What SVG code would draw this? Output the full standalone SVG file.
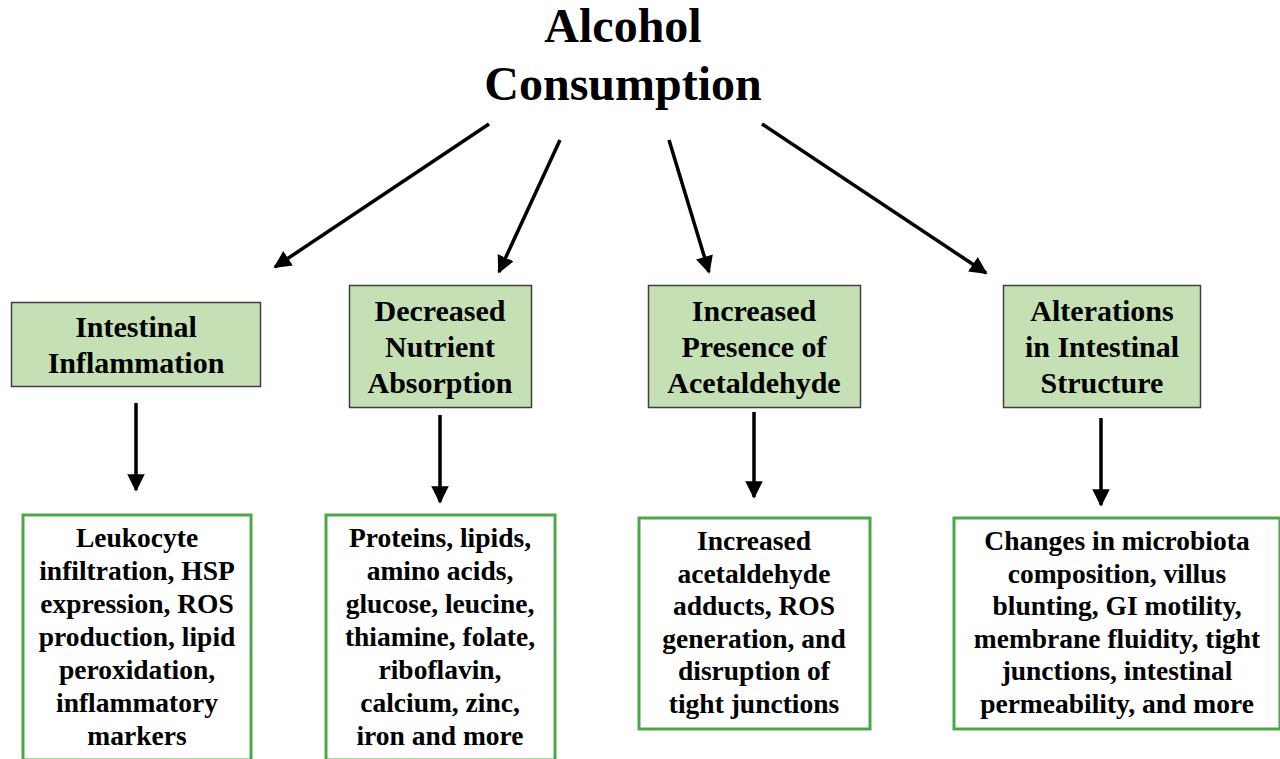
<svg xmlns="http://www.w3.org/2000/svg" width="1280" height="759" viewBox="0 0 1280 759">
<defs>
<style>
text{font-family:"Liberation Serif","Times New Roman",serif;font-weight:bold;fill:#000;text-anchor:middle}
.title{font-size:48px}
.h{font-size:30px}
.b{font-size:27.5px}
.top{fill:#c5e0b4;stroke:#3f3f3f;stroke-width:1.5}
.bot{fill:#fff;stroke:#4ea64b;stroke-width:3}
.arr{stroke:#000;stroke-width:3.5;fill:none;marker-end:url(#ah)}
</style>
<marker id="ah" viewBox="0 0 10 10" refX="9" refY="5" markerWidth="5" markerHeight="5" orient="auto" markerUnits="strokeWidth">
<path d="M0,0 L10,5 L0,10 Z" fill="#000"/>
</marker>
</defs>
<rect width="1280" height="759" fill="#fff"/>
<g id="title">
<text class="title" x="623" y="42">Alcohol</text>
<text class="title" x="623" y="100">Consumption</text>
</g>
<g id="connectors">
<line class="arr" x1="489" y1="124" x2="275" y2="267"/>
<line class="arr" x1="560" y1="140" x2="499" y2="272"/>
<line class="arr" x1="669" y1="140" x2="709" y2="272"/>
<line class="arr" x1="762" y1="124" x2="986" y2="273"/>
<line class="arr" x1="136" y1="403" x2="136" y2="490"/>
<line class="arr" x1="440" y1="415" x2="440" y2="502"/>
<line class="arr" x1="754" y1="412" x2="754" y2="497"/>
<line class="arr" x1="1101" y1="418" x2="1101" y2="505"/>
</g>
<g id="node-inflammation">
<rect class="top" x="11.5" y="302.5" width="249" height="84"/>
<text class="h" x="136" y="337">Intestinal</text>
<text class="h" x="136" y="373">Inflammation</text>
</g>
<g id="node-nutrient">
<rect class="top" x="349.5" y="285.5" width="182" height="122"/>
<text class="h" x="440" y="321">Decreased</text>
<text class="h" x="440" y="357">Nutrient</text>
<text class="h" x="440" y="393">Absorption</text>
</g>
<g id="node-acetaldehyde">
<rect class="top" x="648.5" y="285.5" width="212" height="122"/>
<text class="h" x="754" y="321">Increased</text>
<text class="h" x="754" y="357">Presence of</text>
<text class="h" x="754" y="393">Acetaldehyde</text>
</g>
<g id="node-structure">
<rect class="top" x="1003.5" y="285.5" width="197" height="122"/>
<text class="h" x="1102" y="321">Alterations</text>
<text class="h" x="1102" y="357">in Intestinal</text>
<text class="h" x="1102" y="393">Structure</text>
</g>
<g id="node-inflammation-detail">
<rect class="bot" x="23" y="515" width="228" height="245"/>
<text class="b" x="137" y="547">Leukocyte</text>
<text class="b" x="137" y="580">infiltration, HSP</text>
<text class="b" x="137" y="613">expression, ROS</text>
<text class="b" x="137" y="646">production, lipid</text>
<text class="b" x="137" y="679">peroxidation,</text>
<text class="b" x="137" y="712">inflammatory</text>
<text class="b" x="137" y="745">markers</text>
</g>
<g id="node-nutrient-detail">
<rect class="bot" x="326" y="515" width="229" height="245"/>
<text class="b" x="440" y="547">Proteins, lipids,</text>
<text class="b" x="440" y="580">amino acids,</text>
<text class="b" x="440" y="613">glucose, leucine,</text>
<text class="b" x="440" y="646">thiamine, folate,</text>
<text class="b" x="440" y="679">riboflavin,</text>
<text class="b" x="440" y="712">calcium, zinc,</text>
<text class="b" x="440" y="745">iron and more</text>
</g>
<g id="node-acetaldehyde-detail">
<rect class="bot" x="639" y="518" width="231" height="211"/>
<text class="b" x="754" y="550">Increased</text>
<text class="b" x="754" y="583">acetaldehyde</text>
<text class="b" x="754" y="615">adducts, ROS</text>
<text class="b" x="754" y="648">generation, and</text>
<text class="b" x="754" y="680">disruption of</text>
<text class="b" x="754" y="713">tight junctions</text>
</g>
<g id="node-structure-detail">
<rect class="bot" x="954" y="518" width="326" height="211"/>
<text class="b" x="1117" y="550">Changes in microbiota</text>
<text class="b" x="1117" y="583">composition, villus</text>
<text class="b" x="1117" y="615">blunting, GI motility,</text>
<text class="b" x="1117" y="648">membrane fluidity, tight</text>
<text class="b" x="1117" y="680">junctions, intestinal</text>
<text class="b" x="1117" y="713">permeability, and more</text>
</g>
</svg>
